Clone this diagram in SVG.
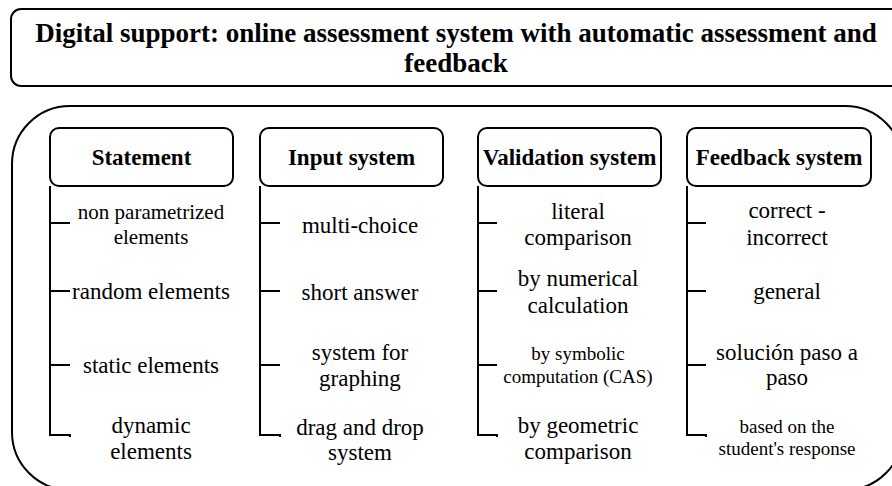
<svg xmlns="http://www.w3.org/2000/svg" width="892" height="486" viewBox="0 0 892 486" font-family="Liberation Serif, Times New Roman, serif">
<style>
.box{fill:#fff;stroke:#000;stroke-width:2}
text{fill:#000;text-anchor:middle}
.hdr{font-weight:bold;font-size:23px}
.ttl{font-weight:bold;font-size:27px}
.it{font-size:23px}
.s21{font-size:21px}
.sm{font-size:19px}
.ln{fill:none;stroke:#000;stroke-width:2}
</style>
<rect width="892" height="486" fill="#fff"/>
<g id="title">
<rect class="box" x="11" y="9" width="891" height="77" rx="10"/>
<text class="ttl" x="456" y="42">Digital support: online assessment system with automatic assessment and</text>
<text class="ttl" x="456" y="72">feedback</text>
</g>
<g id="container">
<rect class="box" x="12" y="106" width="891" height="384" rx="58"/>
</g>
<g id="connectors">
<path class="ln" d="M50,186 V435 H70 v2 M50,223 H70 M50,291 H70 M50,365 H70"/>
<path class="ln" d="M260,186 V435 H280 v2 M260,223 H280 M260,291 H280 M260,365 H280"/>
<path class="ln" d="M478,186 V435 H497 v2 M478,223 H497 M478,291 H497 M478,365 H497"/>
<path class="ln" d="M687,186 V435 H706 v2 M687,223 H706 M687,291 H706 M687,365 H706"/>
</g>
<g id="statement">
<rect class="box" x="50" y="128" width="183" height="58" rx="9"/>
<text class="hdr" x="141.5" y="165">Statement</text>
</g>
<g id="statement-items">
<text class="s21" x="151" y="219">non parametrized</text>
<text class="s21" x="151" y="244">elements</text>
<text class="it" x="151" y="299">random elements</text>
<text class="it" x="151" y="373">static elements</text>
<text class="it" x="151" y="433">dynamic</text>
<text class="it" x="151" y="459">elements</text>
</g>
<g id="input">
<rect class="box" x="260" y="128" width="183" height="58" rx="9"/>
<text class="hdr" x="351.5" y="165">Input system</text>
</g>
<g id="input-items">
<text class="it" x="360" y="233">multi-choice</text>
<text class="it" x="360" y="300">short answer</text>
<text class="it" x="360" y="360">system for</text>
<text class="it" x="360" y="386">graphing</text>
<text class="it" x="360" y="435">drag and drop</text>
<text class="it" x="360" y="460">system</text>
</g>
<g id="validation">
<rect class="box" x="478" y="128" width="183" height="58" rx="9"/>
<text class="hdr" x="569.5" y="165">Validation system</text>
</g>
<g id="validation-items">
<text class="it" x="578" y="219">literal</text>
<text class="it" x="578" y="245">comparison</text>
<text class="it" x="578" y="286">by numerical</text>
<text class="it" x="578" y="313">calculation</text>
<text class="sm" x="578" y="360">by symbolic</text>
<text class="sm" x="578" y="383">computation (CAS)</text>
<text class="it" x="578" y="433">by geometric</text>
<text class="it" x="578" y="459">comparison</text>
</g>
<g id="feedback">
<rect class="box" x="687" y="128" width="184" height="58" rx="9"/>
<text class="hdr" x="779" y="165">Feedback system</text>
</g>
<g id="feedback-items">
<text class="it" x="787" y="218">correct -</text>
<text class="it" x="787" y="245">incorrect</text>
<text class="it" x="787" y="299">general</text>
<text class="it" x="787" y="360">solución paso a</text>
<text class="it" x="787" y="385">paso</text>
<text class="sm" x="787" y="433">based on the</text>
<text class="sm" x="787" y="455">student's response</text>
</g>
</svg>
